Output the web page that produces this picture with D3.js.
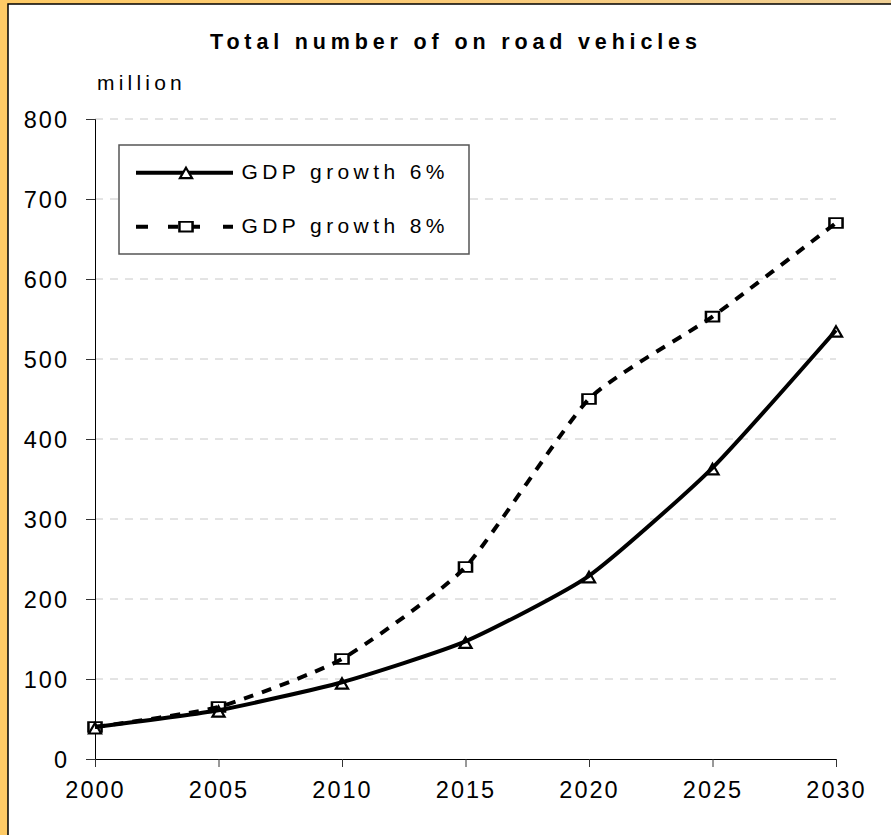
<!DOCTYPE html>
<html>
<head>
<meta charset="utf-8">
<script src="https://cdn.jsdelivr.net/npm/d3@7"></script>
<style>
html,body{margin:0;padding:0;background:#fff;}
svg{display:block;}
text{font-family:"Liberation Sans",Arial,sans-serif;fill:#000;}
</style>
</head>
<body>
<svg id="chart" width="891" height="835"></svg>
<script>
const years = [2000, 2005, 2010, 2015, 2020, 2025, 2030];
const gdp6 = [40, 61, 96, 147, 229, 364, 536];
const gdp8 = [40, 65, 125, 240, 450, 553, 670];
const yTicks = [0, 100, 200, 300, 400, 500, 600, 700, 800];
const seriesNames = ["GDP growth 6%", "GDP growth 8%"];
const titleText = "Total number of on road vehicles";
const unitText = "million";

const svg = d3.select("#chart");
const W = 891, H = 835;

// background
const defs = svg.append("defs");
const grad = defs.append("linearGradient").attr("id","bg").attr("x1","0").attr("y1","0").attr("x2","1").attr("y2","0");
grad.append("stop").attr("offset","0").attr("stop-color","#FFCB66");
grad.append("stop").attr("offset","0.5").attr("stop-color","#FBCB78");
grad.append("stop").attr("offset","1").attr("stop-color","#EFCF95");
svg.append("rect").attr("width",W).attr("height",H).attr("fill","url(#bg)");

// white panel
svg.append("rect").attr("x",8).attr("y",4).attr("width",W).attr("height",H)
  .attr("fill","#fff").attr("stroke","#000").attr("stroke-width",1.5);

const x = d3.scaleLinear().domain([2000, 2030]).range([95, 836]);
const y = d3.scaleLinear().domain([0, 800]).range([759, 119]);

// gridlines
svg.append("g").selectAll("line").data(yTicks.filter(d=>d>0)).join("line")
  .attr("x1", x(2000)).attr("x2", x(2030))
  .attr("y1", d=>y(d)).attr("y2", d=>y(d))
  .attr("stroke","#c8c8c8").attr("stroke-width",1).attr("stroke-dasharray","8,7");

// y axis
const yAxis = d3.axisLeft(y).tickValues(yTicks).tickSize(9).tickPadding(17).tickFormat(d3.format("d"));
const gy = svg.append("g").attr("transform",`translate(${x(2000)},0)`).call(yAxis);
gy.select(".domain").attr("stroke","#000").attr("stroke-width",1);
gy.selectAll(".tick line").attr("stroke","#333");
gy.selectAll("text").attr("font-size",23.5).attr("letter-spacing","2px")
  .attr("font-family","Liberation Sans, Arial, sans-serif").attr("fill","#111").attr("dy","0.36em");

// x axis
const xAxis = d3.axisBottom(x).tickValues(years).tickSize(8).tickPadding(14).tickFormat(d3.format("d"));
const gx = svg.append("g").attr("transform",`translate(0,${y(0)})`).call(xAxis);
gx.select(".domain").attr("stroke","#000").attr("stroke-width",1);
gx.selectAll(".tick line").attr("stroke","#333");
gx.selectAll("text").attr("font-size",23.5).attr("letter-spacing","2px")
  .attr("font-family","Liberation Sans, Arial, sans-serif").attr("fill","#111").attr("dy","0.71em");

const tri = d3.symbol().type(d3.symbolTriangle).size(64);
const sq = d3.symbol().type(d3.symbolSquare).size(130);

// markers (drawn under the lines, as in the reference)
svg.append("g").selectAll("path").data(gdp8).join("path")
  .attr("d", sq).attr("transform",(d,i)=>`translate(${x(years[i])},${y(d)}) scale(1.15,0.85)`)
  .attr("fill","#fff").attr("stroke","#000").attr("stroke-width",2.2);
svg.append("g").selectAll("path").data(gdp6).join("path")
  .attr("d", tri).attr("transform",(d,i)=>`translate(${x(years[i])},${y(d)+3})`)
  .attr("fill","#fff").attr("stroke","#000").attr("stroke-width",2.2);

// lines
const line = d3.line().x((d,i)=>x(years[i])).y(d=>y(d)).curve(d3.curveCardinal.tension(0.45));
svg.append("path").datum(gdp8).attr("d",line).attr("fill","none")
  .attr("stroke","#000").attr("stroke-width",4).attr("stroke-dasharray","10,9");
svg.append("path").datum(gdp6).attr("d",line).attr("fill","none")
  .attr("stroke","#000").attr("stroke-width",4);

// title
svg.append("text").attr("x",210).attr("y",48.5).attr("font-size",21.5).attr("font-weight","bold")
  .attr("letter-spacing","4.85px").text(titleText);
svg.append("text").attr("x",97).attr("y",89.5).attr("font-size",21)
  .attr("letter-spacing","4.2px").text(unitText);

// legend
const lg = svg.append("g");
lg.append("rect").attr("x",119).attr("y",145).attr("width",350).attr("height",109)
  .attr("fill","#fff").attr("stroke","#555").attr("stroke-width",1.5);
const legY = [172.7, 226.7];
lg.append("line").attr("x1",136).attr("x2",233).attr("y1",legY[0]).attr("y2",legY[0])
  .attr("stroke","#000").attr("stroke-width",4);
lg.append("path").attr("d",tri).attr("transform",`translate(186,${legY[0]+2})`)
  .attr("fill","#fff").attr("stroke","#000").attr("stroke-width",2.2);
lg.append("line").attr("x1",136).attr("x2",233).attr("y1",legY[1]).attr("y2",legY[1])
  .attr("stroke","#000").attr("stroke-width",4).attr("stroke-dasharray","12,20,10,14,8,23,10,40");
lg.append("path").attr("d",sq).attr("transform",`translate(186,${legY[1]}) scale(1.15,0.85)`)
  .attr("fill","#fff").attr("stroke","#000").attr("stroke-width",2.2);
lg.selectAll("text.leg").data(seriesNames).join("text").attr("class","leg")
  .attr("x",241.5).attr("y",(d,i)=>legY[i]+6).attr("font-size",21).attr("letter-spacing","4.4px")
  .text(d=>d);
</script>
</body>
</html>
